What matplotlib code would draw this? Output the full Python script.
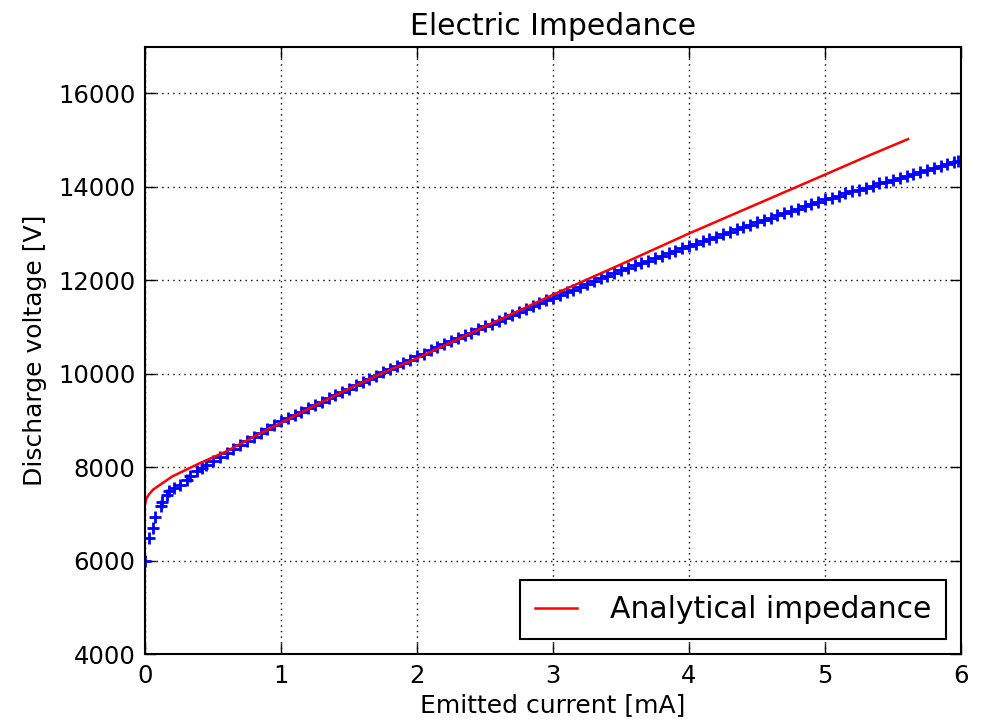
import matplotlib
matplotlib.use("Agg")
import matplotlib.pyplot as plt

# Measured discharge (blue '+' markers)
meas_current = [0.00, 0.03, 0.06, 0.07, 0.115, 0.125, 0.16, 0.18, 0.21, 0.26, 0.31, 0.33,
                0.38, 0.42, 0.45,
                0.50, 0.55, 0.60, 0.65, 0.70, 0.75, 0.80, 0.85, 0.90, 0.95,
                1.00, 1.05, 1.10, 1.15, 1.20, 1.25, 1.30, 1.35, 1.40, 1.45,
                1.50, 1.55, 1.60, 1.65, 1.70, 1.75, 1.80, 1.85, 1.90, 1.95,
                2.00, 2.05, 2.10, 2.15, 2.20, 2.25, 2.30, 2.35, 2.40, 2.45,
                2.50, 2.55, 2.60, 2.65, 2.70, 2.75, 2.80, 2.85, 2.90, 2.95,
                3.00, 3.05, 3.10, 3.15, 3.20, 3.25, 3.30, 3.35, 3.40, 3.45,
                3.50, 3.55, 3.60, 3.65, 3.70, 3.75, 3.80, 3.85, 3.90, 3.95,
                4.00, 4.05, 4.10, 4.15, 4.20, 4.25, 4.30, 4.35, 4.40, 4.45,
                4.50, 4.55, 4.60, 4.65, 4.70, 4.75, 4.80, 4.85, 4.90, 4.95,
                5.00, 5.05, 5.10, 5.15, 5.20, 5.25, 5.30, 5.35, 5.40, 5.45,
                5.50, 5.55, 5.60, 5.65, 5.70, 5.75, 5.80, 5.85, 5.90, 5.95, 5.98]
meas_voltage = [6000, 6480, 6690, 6940, 7160, 7260, 7400, 7490, 7550, 7620, 7730, 7800,
                7910, 7980, 8050,
                8140, 8220, 8300, 8390, 8470, 8560, 8640, 8730, 8810, 8900,
                8980, 9050, 9120, 9190, 9260, 9330, 9400, 9470, 9540, 9610,
                9680, 9750, 9820, 9890, 9960, 10030, 10090, 10160, 10230, 10300,
                10370, 10430, 10500, 10560, 10630, 10690, 10760, 10820, 10880, 10950,
                11010, 11070, 11130, 11200, 11260, 11320, 11380, 11440, 11510, 11570,
                11630, 11690, 11750, 11800, 11860, 11920, 11980, 12040, 12100, 12150,
                12210, 12260, 12320, 12370, 12420, 12470, 12520, 12580, 12630, 12680,
                12730, 12780, 12830, 12880, 12930, 12980, 13040, 13090, 13140, 13190,
                13240, 13290, 13340, 13390, 13440, 13490, 13530, 13580, 13630, 13680,
                13730, 13770, 13810, 13860, 13900, 13940, 13980, 14020, 14070, 14110,
                14150, 14190, 14230, 14270, 14310, 14360, 14400, 14440, 14480, 14520, 14550]

# Analytical impedance (red line)
model_current = [0.00, 0.01, 0.03, 0.06, 0.10, 0.15, 0.20, 0.30, 0.40, 0.50, 0.60, 0.80,
                 1.00, 1.25, 1.50, 1.75, 2.00, 2.50, 3.00, 3.50, 4.00, 4.50, 5.00, 5.30, 5.61]
model_voltage = [7200, 7330, 7420, 7520, 7600, 7700, 7800, 7940, 8080, 8210, 8340, 8650,
                 8950, 9320, 9680, 10020, 10330, 11010, 11690, 12340, 13000, 13630, 14260, 14640, 15020]

x_ticks = [0, 1, 2, 3, 4, 5, 6]
y_ticks = [4000, 6000, 8000, 10000, 12000, 14000, 16000]

fig = plt.figure(figsize=(9.82, 7.22), dpi=100)
ax = fig.add_axes([145 / 982, 1 - 654 / 722, (961 - 145) / 982, (654 - 46.6) / 722])

ax.plot(meas_current, meas_voltage, linestyle="none", marker="+", color="b",
        markersize=9, markeredgewidth=2.0)
ax.plot(model_current, model_voltage, color="r", linewidth=1.8, label="Analytical impedance")

ax.set_xlim(0, 6)
ax.set_ylim(4000, 17000)
ax.set_xticks(x_ticks)
ax.set_yticks(y_ticks)
ax.tick_params(direction="in", length=8, width=1, top=True, right=True,
               labelsize=17.5, pad=7)
ax.grid(True, color="k", linestyle=(0, (1, 3)), linewidth=1)
for s in ax.spines.values():
    s.set_linewidth(1.5)

ax.set_title("Electric Impedance", fontsize=21.5, pad=8)
ax.set_xlabel("Emitted current [mA]", fontsize=18, labelpad=4)
ax.set_ylabel("Discharge voltage [V]", fontsize=18, labelpad=8)

leg = ax.legend(loc="lower right", fontsize=21.5, fancybox=False, framealpha=1,
                edgecolor="k", handlelength=1.4, handletextpad=1.1, borderpad=0.5,
                borderaxespad=0.5)
leg.get_frame().set_linewidth(1.5)

fig.savefig("out.png", dpi=100)
